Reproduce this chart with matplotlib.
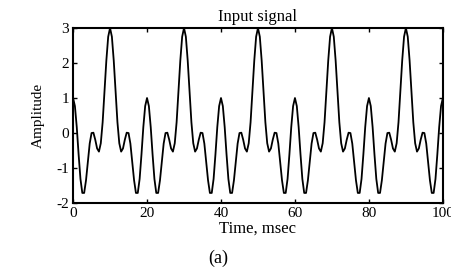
import matplotlib
matplotlib.use('Agg')
import matplotlib.pyplot as plt
import numpy as np

# time axis in msec, sampled every 0.5 msec
time_ms = np.arange(0, 100.5, 0.5)

# amplitude values (five identical 20 ms periods)
amplitude = [
    1.00, 0.77, 0.17, -0.61, -1.31, -1.71, -1.71, -1.35, -0.81, -0.30,
    0.00, 0.01, -0.19, -0.44, -0.53, -0.29, 0.31, 1.17, 2.07, 2.75,
    3.00, 2.75, 2.07, 1.17, 0.31, -0.29, -0.53, -0.44, -0.19, 0.01,
    0.00, -0.30, -0.81, -1.35, -1.71, -1.71, -1.31, -0.61, 0.17, 0.77,
    1.00, 0.77, 0.17, -0.61, -1.31, -1.71, -1.71, -1.35, -0.81, -0.30,
    0.00, 0.01, -0.19, -0.44, -0.53, -0.29, 0.31, 1.17, 2.07, 2.75,
    3.00, 2.75, 2.07, 1.17, 0.31, -0.29, -0.53, -0.44, -0.19, 0.01,
    0.00, -0.30, -0.81, -1.35, -1.71, -1.71, -1.31, -0.61, 0.17, 0.77,
    1.00, 0.77, 0.17, -0.61, -1.31, -1.71, -1.71, -1.35, -0.81, -0.30,
    0.00, 0.01, -0.19, -0.44, -0.53, -0.29, 0.31, 1.17, 2.07, 2.75,
    3.00, 2.75, 2.07, 1.17, 0.31, -0.29, -0.53, -0.44, -0.19, 0.01,
    0.00, -0.30, -0.81, -1.35, -1.71, -1.71, -1.31, -0.61, 0.17, 0.77,
    1.00, 0.77, 0.17, -0.61, -1.31, -1.71, -1.71, -1.35, -0.81, -0.30,
    0.00, 0.01, -0.19, -0.44, -0.53, -0.29, 0.31, 1.17, 2.07, 2.75,
    3.00, 2.75, 2.07, 1.17, 0.31, -0.29, -0.53, -0.44, -0.19, 0.01,
    0.00, -0.30, -0.81, -1.35, -1.71, -1.71, -1.31, -0.61, 0.17, 0.77,
    1.00, 0.77, 0.17, -0.61, -1.31, -1.71, -1.71, -1.35, -0.81, -0.30,
    0.00, 0.01, -0.19, -0.44, -0.53, -0.29, 0.31, 1.17, 2.07, 2.75,
    3.00, 2.75, 2.07, 1.17, 0.31, -0.29, -0.53, -0.44, -0.19, 0.01,
    0.00, -0.30, -0.81, -1.35, -1.71, -1.71, -1.31, -0.61, 0.17, 0.77,
    1.00,
]
x_ticks = [0, 20, 40, 60, 80, 100]
y_ticks = [-2, -1, 0, 1, 2, 3]

plt.rcParams['font.family'] = 'Liberation Serif'
plt.rcParams['axes.unicode_minus'] = False

fig = plt.figure(figsize=(4.51, 2.69), dpi=100)
ax = fig.add_axes([0.162, 0.245, 0.82, 0.651])

ax.plot(time_ms, amplitude, color='black', lw=1.3)

ax.set_xlim(0, 100)
ax.set_ylim(-2, 3)
ax.set_xticks(x_ticks)
ax.set_yticks(y_ticks)
ax.tick_params(direction='in', length=3, width=1, labelsize=11, pad=3,
               top=True, right=True)
for sp in ax.spines.values():
    sp.set_linewidth(1.5)

ax.set_title('Input signal', fontsize=12, pad=5)
ax.set_ylabel('Amplitude', fontsize=11, labelpad=8)
ax.set_xlabel('Time, msec', fontsize=12, labelpad=0)
fig.text(0.483, 0.04, '(a)', fontsize=13, ha='center', va='center')

fig.savefig('out.png', dpi=100)
